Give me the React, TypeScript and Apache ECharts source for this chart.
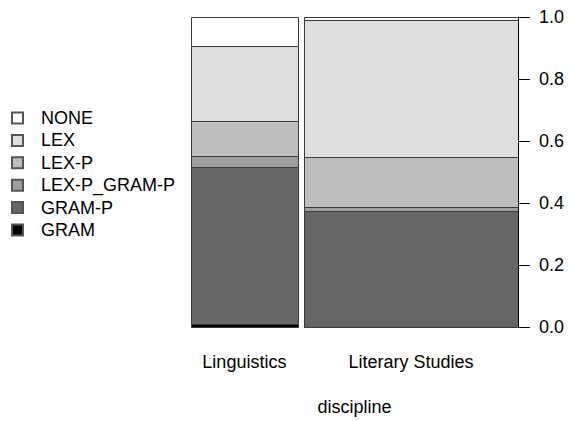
import React, { useEffect, useRef } from "react";
import * as echarts from "echarts";

// Spineplot: share of each annotation type within each discipline
const disciplines = ["Linguistics", "Literary Studies"];
const disciplineShare = [0.333, 0.667];
const levels = ["GRAM", "GRAM-P", "LEX-P_GRAM-P", "LEX-P", "LEX", "NONE"];
const levelColors = ["#000000", "#666666", "#9E9E9E", "#BEBEBE", "#DEDEDE", "#FFFFFF"];
const linguisticsShares = [0.01, 0.505, 0.037, 0.114, 0.242, 0.092];
const literaryStudiesShares = [0.0, 0.375, 0.0125, 0.16, 0.4425, 0.01];
const yTicks = [0, 0.2, 0.4, 0.6, 0.8, 1.0];

const sharesByDiscipline = [linguisticsShares, literaryStudiesShares];
const GAP = 0.02;
const FONT = "'Liberation Sans', Arial, Helvetica, sans-serif";
const FS = 18;

export default function App() {
  const ref = useRef<HTMLDivElement>(null);

  useEffect(() => {
    if (!ref.current) return;
    const chart = echarts.init(ref.current, undefined, { renderer: "svg" });

    // x extents of each spine
    const xStarts: number[] = [];
    let acc = 0;
    disciplineShare.forEach((w, i) => {
      xStarts.push(acc);
      acc += w + (i < disciplineShare.length - 1 ? GAP : 0);
    });
    const xMax = acc;

    const rectSeries = levels.map((lvl, li) => {
      const data = disciplines.map((_, di) => {
        const shares = sharesByDiscipline[di];
        let y0 = 0;
        for (let k = 0; k < li; k++) y0 += shares[k];
        const y1 = y0 + shares[li];
        return [xStarts[di], xStarts[di] + disciplineShare[di], y0, y1];
      });
      return {
        type: "custom",
        name: lvl,
        itemStyle: { color: levelColors[li], borderColor: "#555", borderWidth: 1 },
        encode: { x: [0, 1], y: [2, 3] },
        data,
        renderItem: (params: any, api: any) => {
          const p0 = api.coord([api.value(0), api.value(3)]);
          const p1 = api.coord([api.value(1), api.value(2)]);
          return {
            type: "rect",
            shape: {
              x: Math.round(p0[0]) + 0.5,
              y: Math.round(p0[1]) + 0.5,
              width: Math.round(p1[0]) - Math.round(p0[0]),
              height: Math.round(p1[1]) - Math.round(p0[1]),
            },
            style: { fill: api.visual("color"), stroke: "#3a3a3a", lineWidth: 1 },
          };
        },
      };
    });

    const labelSeries = {
      type: "custom",
      name: "labels",
      silent: true,
      encode: { x: 0 },
      data: disciplines.map((d, di) => [xStarts[di] + disciplineShare[di] / 2, d]),
      renderItem: (params: any, api: any) => {
        const p = api.coord([api.value(0), 0]);
        return {
          type: "text",
          x: p[0],
          y: p[1] + 35,
          style: {
            text: disciplines[params.dataIndex],
            fill: "#000",
            font: `${FS}px ${FONT}`,
            align: "center",
            verticalAlign: "middle",
          },
        };
      },
    };

    chart.setOption({
      animation: false,
      backgroundColor: "#fff",
      textStyle: { fontFamily: FONT },
      grid: { left: 191, right: 51, top: 17, bottom: 90 },
      legend: {
        orient: "vertical",
        left: 6,
        top: 102,
        data: [...levels].reverse(),
        icon: "rect",
        itemWidth: 11,
        itemHeight: 11,
        itemGap: 0.4,
        selectedMode: false,
        textStyle: { fontSize: FS, color: "#000", fontFamily: FONT, lineHeight: 22, padding: [0, 0, 0, 13] },
      },
      xAxis: {
        type: "value",
        min: 0,
        max: xMax,
        name: "discipline",
        nameLocation: "middle",
        nameGap: 71,
        nameTextStyle: { fontSize: FS, color: "#000", fontFamily: FONT },
        axisLine: { show: false, onZero: false },
        axisTick: { show: false },
        axisLabel: { show: false },
        splitLine: { show: false },
      },
      yAxis: {
        type: "value",
        position: "right",
        min: 0,
        max: 1,
        interval: 0.2,
        z: 10,
        axisLine: { show: true, onZero: false, lineStyle: { color: "#000", width: 1 } },
        axisTick: { show: true, inside: false, length: 12, lineStyle: { color: "#000", width: 1 } },
        axisLabel: {
          margin: 21,
          fontSize: FS,
          color: "#000",
          fontFamily: FONT,
          formatter: (v: number) => {
            const t = yTicks.find((x) => Math.abs(x - v) < 1e-9);
            return t === undefined ? "" : t.toFixed(1);
          },
        },
        splitLine: { show: false },
      },
      series: [...rectSeries, labelSeries],
    });

    return () => chart.dispose();
  }, []);

  return (
    <div
      ref={ref}
      style={{ position: "fixed", left: 0, top: 0, width: 569, height: 421 }}
    />
  );
}
